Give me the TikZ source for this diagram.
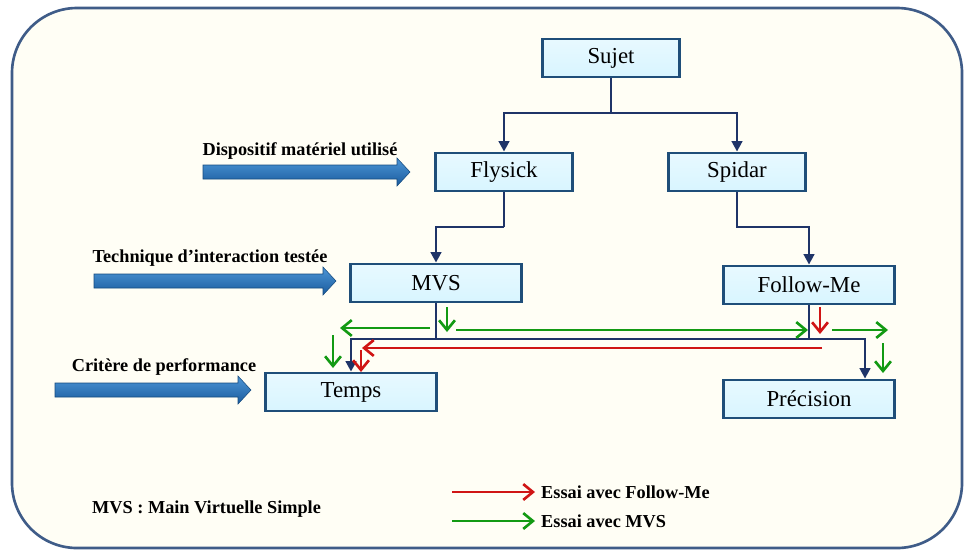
\documentclass[tikz,border=0pt]{standalone}
\usepackage{fontspec}
\setmainfont{Liberation Serif}
\usepackage{xcolor}
\usepackage{tikz}
\usetikzlibrary{arrows.meta}
\definecolor{paper}{HTML}{FFFEF5}
\definecolor{frameline}{HTML}{3F5C88}
\definecolor{boxfill}{HTML}{D8F5FF}
\definecolor{boxedge}{HTML}{1F4E79}
\definecolor{navyc}{HTML}{1F3468}
\definecolor{greenc}{HTML}{139A13}
\definecolor{redc}{HTML}{D01515}
\definecolor{arrowtop}{HTML}{4D95D6}
\definecolor{arrowbot}{HTML}{1A5C9E}

\tikzset{
  box/.style={draw=boxedge, line width=1.6pt, top color=boxfill!60!white, bottom color=boxfill,
    minimum height=0.76cm, font=\fontsize{13}{15}\selectfont},
  smallbox/.style={box, minimum width=2.74cm},
  widebox/.style={box, minimum width=3.42cm},
  tree/.style={navyc, line width=1.6pt},
  treearr/.style={tree, -{Triangle[width=6pt,length=6pt]}},
  mvsarr/.style={greenc, line width=1.6pt, -{Straight Barb[width=9pt,length=5.5pt,line width=1.5pt]}},
  fmarr/.style={redc, line width=1.6pt, -{Straight Barb[width=9pt,length=5.5pt,line width=1.5pt]}},
  lbl/.style={font=\fontsize{10.4}{12}\selectfont\bfseries},
}

% shaded blue arrow: from x0 to x1 at height y
\newcommand\bluearrow[3]{%
  \shade[top color=arrowtop, bottom color=arrowbot, draw=arrowbot!80!black, line width=0.3pt]
    (#1,#3-7) -- (#2-13,#3-7) -- (#2-13,#3-14) -- (#2,#3) -- (#2-13,#3+14) -- (#2-13,#3+7) -- (#1,#3+7) -- cycle;}

\begin{document}
\begin{tikzpicture}[x=0.02cm, y=-0.02cm]
  \useasboundingbox (0,0) rectangle (966,552);
  \fill[white] (0,0) rectangle (966,552);
  \draw[frameline, fill=paper, line width=1.5pt, rounded corners=1.3cm] (12,8) rectangle (962,548);

  % boxes
  \node[smallbox] (sujet) at (611,58) {Sujet};
  \node[smallbox] (flysick) at (504,172) {Flysick};
  \node[smallbox] (spidar) at (737,172) {Spidar};
  \node[widebox] (mvs) at (436,283) {MVS};
  \node[widebox] (fm) at (809,285) {Follow-Me};
  \node[widebox] (temps) at (351,392) {Temps};
  \node[widebox] (prec) at (809,399) {Précision};

  % tree connectors
  \coordinate (j1) at (611,113);
  \draw[tree] (sujet.south) -- (j1);
  \draw[treearr] (j1) -| (flysick.north);
  \draw[treearr] (j1) -| (spidar.north);

  \coordinate (j2) at (504,227);
  \draw[tree] (flysick.south) -- (j2);
  \draw[treearr] (j2) -| (mvs.north);
  \draw[treearr] (spidar.south) -- (spidar.south |- j2) -| (fm.north);

  \coordinate (j3) at (436,339);
  \coordinate (j4) at (865,339);
  \draw[tree] (mvs.south) -- (j3);
  \draw[treearr] (j3) -| (temps.north);
  \draw[tree] (fm.south) -- (fm.south |- j3);
  \draw[treearr] (j3) -- (j4) -- (j4 |- prec.north);

  % essai avec MVS
  \coordinate (g1) at (430,328);
  \coordinate (g2) at (340,328);
  \coordinate (g3) at (447,307);
  \coordinate (g4) at (447,332);
  \coordinate (g5) at (456,330);
  \coordinate (g6) at (808,330);
  \coordinate (g7) at (832,330);
  \coordinate (g8) at (888,330);
  \coordinate (g9) at (883,343);
  \coordinate (g10) at (883,373);
  \coordinate (g11) at (333,335);
  \coordinate (g12) at (333,368);
  \draw[mvsarr] (g1) -- (g2);
  \draw[mvsarr] (g3) -- (g4);
  \draw[mvsarr] (g5) -- (g6);
  \draw[mvsarr] (g7) -- (g8);
  \draw[mvsarr] (g9) -- (g10);
  \draw[mvsarr] (g11) -- (g12);

  % essai avec Follow-Me
  \coordinate (r1) at (820,307);
  \coordinate (r2) at (820,334);
  \coordinate (r3) at (822,348);
  \coordinate (r4) at (362,348);
  \coordinate (r5) at (361,350);
  \coordinate (r6) at (361,372);
  \draw[fmarr] (r1) -- (r2);
  \draw[fmarr] (r3) -- (r4);
  \draw[fmarr] (r5) -- (r6);

  % level arrows
  \bluearrow{203}{410}{172}
  \bluearrow{94}{336}{281}
  \bluearrow{55}{251}{390}
  \node[lbl] (dispo) at (300,151) {Dispositif matériel utilisé};
  \node[lbl] (tech) at (210,258) {Technique d’interaction testée};
  \node[lbl] (crit) at (164,367) {Critère de performance};

  % legend
  \node[lbl, anchor=west] (abbr) at (86,509) {MVS : Main Virtuelle Simple};
  \node[lbl, anchor=west] (legfm) at (535,492) {Essai avec Follow-Me};
  \node[lbl, anchor=west] (legmvs) at (535,521) {Essai avec MVS};
  \coordinate (lr) at (452,492);
  \coordinate (lg) at (452,521);
  \draw[fmarr] (lr) -- (legfm.west);
  \draw[mvsarr] (lg) -- (legmvs.west);
\end{tikzpicture}
\end{document}
